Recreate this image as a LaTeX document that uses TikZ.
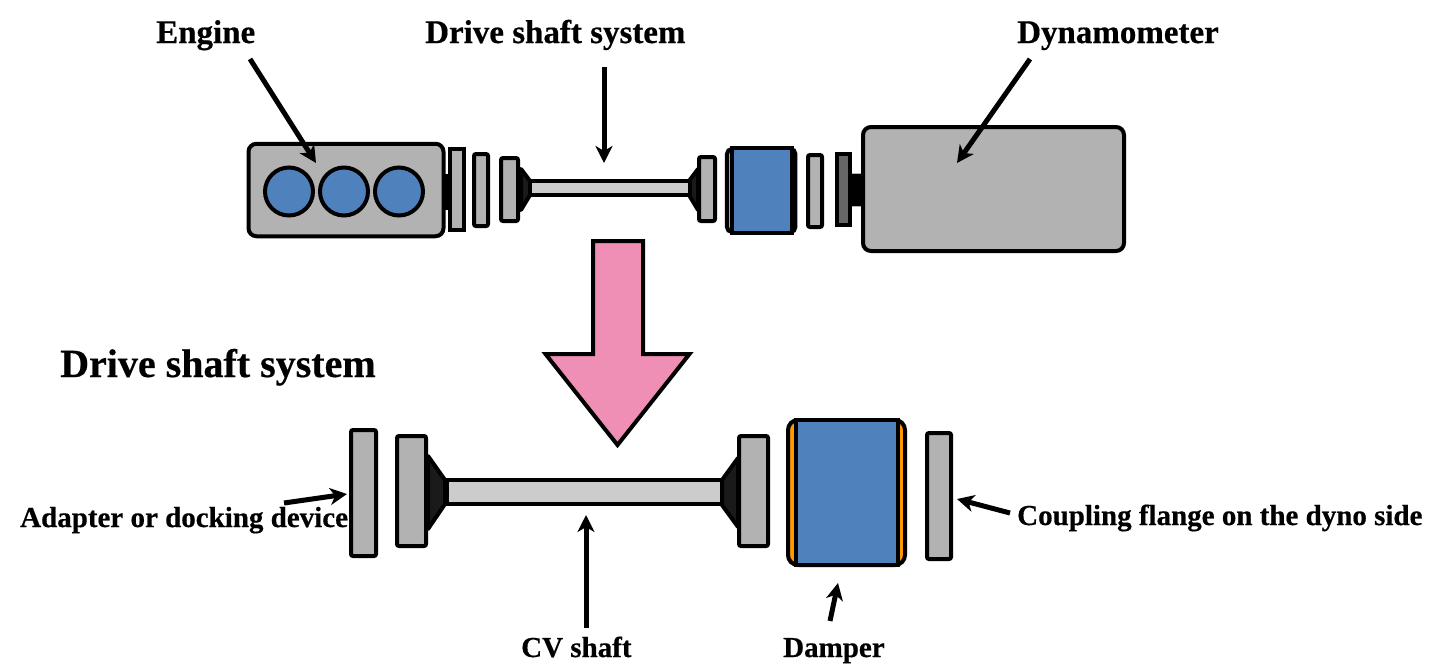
\documentclass[tikz,border=0pt]{standalone}
\usepackage{fontspec}
\setmainfont[BoldFeatures={FakeBold=0.5}]{Liberation Serif}
\usetikzlibrary{arrows.meta}
\definecolor{partgray}{HTML}{B2B2B2}
\definecolor{shaftgray}{HTML}{CCCCCC}
\definecolor{darkplate}{HTML}{666666}
\definecolor{conedark}{HTML}{1A1A1A}
\definecolor{damperblue}{HTML}{4F81BD}
\definecolor{damperorange}{HTML}{FF9900}
\definecolor{bigpink}{HTML}{F08FB5}
\tikzset{
	part/.style={draw, fill=partgray, rectangle, inner sep=0, outer sep=0},
	lab/.style={anchor=base west, inner sep=0, font=\bfseries\fontsize{29}{32}\selectfont},
	labtop/.style={lab, font=\bfseries\fontsize{33}{36}\selectfont},
	pointer/.style={-{Stealth[length=17pt, width=17pt, inset=5pt]}, line width=5pt},
	cone/.style={draw, fill=conedark, line join=round}
}
\begin{document}
\begin{tikzpicture}[x=1pt, y=-1pt]
	\useasboundingbox (0,0) rectangle (1440,665);

	\begin{scope}[line width=4pt]
		\node[part, fill=black, minimum width=8, minimum height=32] (engstub) at (447,191.5) {};
		\node[part, rounded corners=8, minimum width=195, minimum height=92.5] (eng) at (346,190) {};
		\node[draw, circle, fill=damperblue, inner sep=0, minimum size=48] (cyl1) at (289,191.5) {};
		\node[draw, circle, fill=damperblue, inner sep=0, minimum size=48] (cyl2) at (344,191.5) {};
		\node[draw, circle, fill=damperblue, inner sep=0, minimum size=48] (cyl3) at (399,191.5) {};

		\node[part, minimum width=14, minimum height=81] (tp1) at (457,189.5) {};
		\node[part, rounded corners=2, minimum width=14, minimum height=72] (tp2) at (481,190) {};
		\draw[cone] (521,169) -- (530,181) -- (530,195) -- (521,210) -- cycle;
		\draw[cone] (698,169) -- (689,181) -- (689,195) -- (698,210) -- cycle;
		\node[part, rounded corners=2, minimum width=17, minimum height=63] (tp3) at (509.5,189.5) {};
		\node[part, fill=shaftgray, minimum width=160, minimum height=14] (tshaft) at (610,188) {};
		\node[part, rounded corners=2, minimum width=16, minimum height=64] (tp4) at (707,189) {};

		\node[part, fill=damperorange, rounded corners=5, minimum width=68.5, minimum height=83] (tdmpo) at (761.2,190.5) {};
		\node[part, fill=damperblue, minimum width=60, minimum height=85] (tdmp) at (761.7,190.2) {};

		\node[part, rounded corners=2, minimum width=14, minimum height=72] (tp5) at (815,191) {};
		\node[part, fill=black, draw=partgray, line width=0.5pt, minimum width=12, minimum height=33] (dynstub) at (857,190) {};
		\node[part, fill=darkplate, minimum width=13, minimum height=71] (tp6) at (843.5,189.5) {};
		\node[part, rounded corners=8, minimum width=261, minimum height=124] (dyno) at (993.5,189) {};
	\end{scope}

	\draw[fill=bigpink, line width=4pt] (593,241) -- (643,241) -- (643,354) -- (689.5,354) -- (617.5,445) -- (545.5,354) -- (593,354) -- cycle;

	\begin{scope}[line width=4pt]
		\node[part, rounded corners=2, minimum width=25, minimum height=126] (bpa) at (363.5,493) {};
		\draw[cone] (428,456) -- (445,480) -- (445,504) -- (428,529) -- cycle;
		\draw[cone] (738,458) -- (722,480) -- (722,505) -- (738,527) -- cycle;
		\node[part, rounded corners=2, minimum width=29, minimum height=110] (bpb) at (411.5,491) {};
		\node[part, fill=shaftgray, minimum width=275, minimum height=24] (bshaft) at (584.5,492) {};
		\node[part, rounded corners=2, minimum width=29, minimum height=110] (bpc) at (753.5,491) {};
		\node[part, fill=damperorange, rounded corners=10, minimum width=117, minimum height=145] (bdmpo) at (846.5,492.5) {};
		\node[part, fill=damperblue, minimum width=102, minimum height=145] (bdmp) at (847,492.5) {};
		\node[part, rounded corners=2, minimum width=24, minimum height=126] (bpd) at (939,496) {};
	\end{scope}

	\coordinate (a1) at (250,59);
	\coordinate (a2) at (316,163);
	\coordinate (b1) at (604,67);
	\coordinate (b2) at (604,163);
	\coordinate (c1) at (1030,59);
	\coordinate (c2) at (957,163);
	\coordinate (d1) at (284,503);
	\coordinate (d2) at (347,494);
	\coordinate (e1) at (586,628);
	\coordinate (e2) at (586,515);
	\coordinate (f1) at (830,621);
	\coordinate (f2) at (838,583);
	\coordinate (g1) at (1010,513);
	\coordinate (g2) at (957,499);

	\draw[pointer] (a1) -- (a2);
	\draw[pointer] (b1) -- (b2);
	\draw[pointer] (c1) -- (c2);
	\draw[pointer] (d1) -- (d2);
	\draw[pointer] (e1) -- (e2);
	\draw[pointer] (f1) -- (f2);
	\draw[pointer] (g1) -- (g2);

	\node[labtop] (tengine) at (156,43) {Engine};
	\node[labtop] (tdrive) at (425,43) {Drive shaft system};
	\node[labtop] (tdyno) at (1017,43) {Dynamometer};
	\node[lab, font=\bfseries\fontsize{40}{44}\selectfont] (thead) at (60,377) {Drive shaft system};
	\node[lab] (tadapt) at (20,527) {Adapter or docking device};
	\node[lab] (tcoup) at (1017,525) {Coupling flange on the dyno side};
	\node[lab] (tcv) at (521,657) {CV shaft};
	\node[lab] (tdamp) at (783,657) {Damper};
\end{tikzpicture}
\end{document}
